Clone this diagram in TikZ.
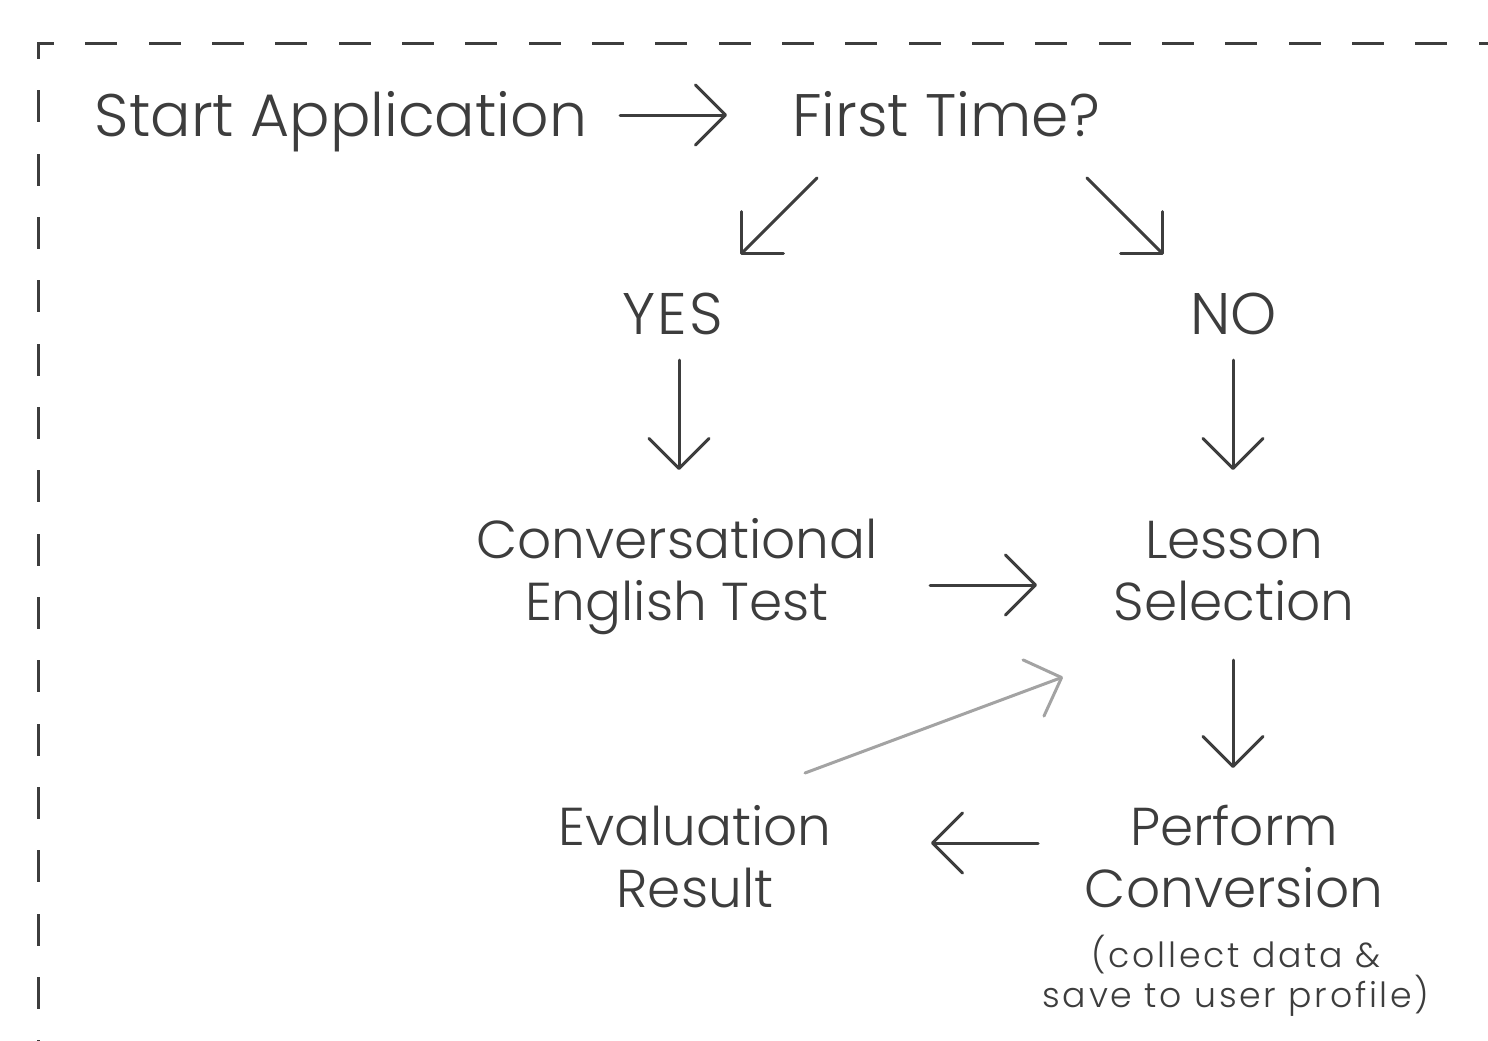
\documentclass[tikz,border=0pt]{standalone}
\usepackage{fontspec}
\IfFontExistsTF{Poppins Light}{\setmainfont{Poppins Light}}{\setmainfont{Poppins}}
\usetikzlibrary{arrows.meta}
\definecolor{ink}{HTML}{3D3D3D}
\definecolor{soft}{HTML}{A3A3A3}
\begin{document}
\begin{tikzpicture}[x=0.75pt,y=-0.75pt,
  txt/.style={text=ink, inner sep=0pt, align=center, anchor=base},
  top/.style={txt, font=\fontsize{45}{50}\selectfont},
  yn/.style={txt, font=\fontsize{44}{50}\selectfont},
  big/.style={txt, font=\fontsize{40}{46.5}\selectfont},
  small/.style={txt, font=\fontsize{26}{30}\selectfont\addfontfeatures{LetterSpace=8}},
  arr/.style={draw=ink, line width=2.25pt, line cap=round, line join=round,
     -{Straight Barb[length=22.5pt,width=45pt,round]}},
  garr/.style={arr, draw=soft},
  frame/.style={draw=ink, line width=2.25pt, line cap=rect,
     dash pattern=on 21.75pt off 25.75pt, dash phase=10.875pt}]
\useasboundingbox (0,0) rectangle (1488,1040);
\fill[white] (0,0) rectangle (1488,1040);
% frame
\coordinate (corner) at (38,43);
\coordinate (fr) at (1560,43);
\coordinate (fb) at (38,1110);
\draw[frame] (corner) -- (fr);
\draw[frame] (corner) -- (fb);
% texts (anchor = baseline of the last line)
\node[top] (start) at (341,136) {Start Application};
\node[top] (first) at (946,136) {First Time?};
\node[yn] (yes) at (673,334) {\addfontfeatures{LetterSpace=4}YES};
\node[yn] (no) at (1233.5,334) {NO};
\node[big] (conv) at (677,620) {Conversational\\English Test};
\node[big] (lesson) at (1234,620) {Lesson\\Selection};
\node[big] (eval) at (695,907) {Evaluation\\Result};
\node[big] (perform) at (1234,907) {Perform\\Conversion};
\node[small] (note) at (1236,1007) {(collect data \&\\save to user profile)};
% arrow ends
\coordinate (a1s) at (620,115);  \coordinate (a1e) at (727,115);
\coordinate (a2s) at (817,178);  \coordinate (a2e) at (740,255);
\coordinate (a3s) at (1087,178); \coordinate (a3e) at (1164,255);
\coordinate (a4s) at (679,360);  \coordinate (a4e) at (679,470);
\coordinate (a5s) at (1233,360); \coordinate (a5e) at (1233,470);
\coordinate (a6s) at (930,585);  \coordinate (a6e) at (1037,585);
\coordinate (a7s) at (1233,660); \coordinate (a7e) at (1233,768);
\coordinate (a8s) at (1038,843); \coordinate (a8e) at (931,843);
\coordinate (a9s) at (805,773);  \coordinate (a9e) at (1063,677);
\draw[arr] (a1s) -- (a1e);
\draw[arr] (a2s) -- (a2e);
\draw[arr] (a3s) -- (a3e);
\draw[arr] (a4s) -- (a4e);
\draw[arr] (a5s) -- (a5e);
\draw[arr] (a6s) -- (a6e);
\draw[arr] (a7s) -- (a7e);
\draw[arr] (a8s) -- (a8e);
\draw[garr] (a9s) -- (a9e);
\end{tikzpicture}
\end{document}
